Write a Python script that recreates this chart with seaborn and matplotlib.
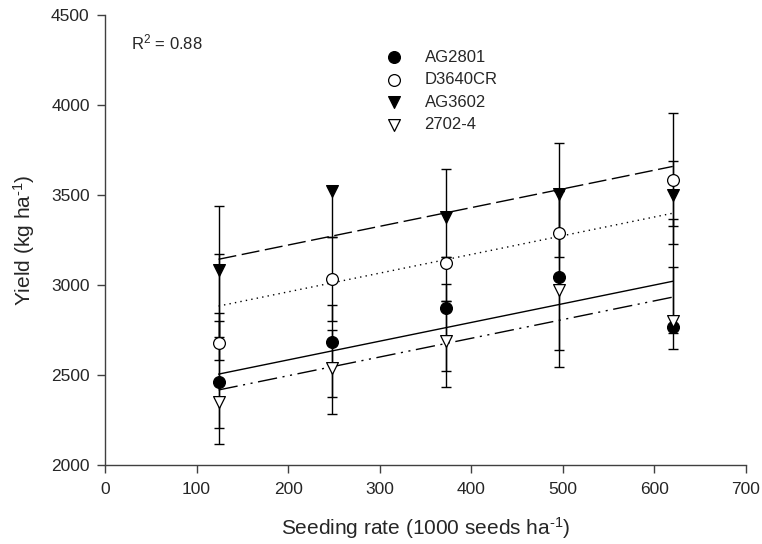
import numpy as np
import matplotlib
matplotlib.use("Agg")
import matplotlib.pyplot as plt
import seaborn as sns

# seeding rates (1000 seeds/ha)
rates = np.array([124, 248, 372, 496, 620])

# mean yields (kg/ha)
ag2801 = np.array([2459, 2685, 2870, 3043, 2765])
d3640cr = np.array([2676, 3031, 3120, 3291, 3583])
ag3602 = np.array([3083, 3525, 3379, 3506, 3500])
h2702_4 = np.array([2352, 2541, 2691, 2972, 2802])

# error bar ends (lower, upper)
ag2801_lo = np.array([2117, 2376, 2524, 2546, 2643])
ag2801_hi = np.array([2843, 2891, 3006, 3520, 3102])
d3640cr_lo = np.array([2581, 2800, 2913, 3154, 3228])
d3640cr_hi = np.array([3172, 3268, 3157, 3520, 3957])
ag3602_lo = np.array([2709, 3268, 3157, 3291, 3328])
ag3602_hi = np.array([3439, 3545, 3643, 3787, 3691])
h2702_4_lo = np.array([2207, 2283, 2431, 2639, 2731])
h2702_4_hi = np.array([2802, 2750, 2913, 3291, 3365])

# fitted lines (common slope)
slope = 1.04
intercepts = {"AG2801": 2376, "D3640CR": 2754, "AG3602": 3014, "2702-4": 2288}

sns.set_style("ticks")
plt.rcParams["font.family"] = ["Liberation Sans", "DejaVu Sans"]
plt.rcParams["mathtext.fontset"] = "custom"
plt.rcParams["mathtext.rm"] = "Liberation Sans"
plt.rcParams["mathtext.default"] = "regular"

fig, ax = plt.subplots(figsize=(7.62, 5.44), dpi=100)
fig.subplots_adjust(left=0.1378, right=0.979, bottom=0.1452, top=0.9724)

series = [
    ("AG2801", ag2801, ag2801_lo, ag2801_hi, "o", "black", (None, None)),
    ("D3640CR", d3640cr, d3640cr_lo, d3640cr_hi, "o", "white", (1, 3)),
    ("AG3602", ag3602, ag3602_lo, ag3602_hi, "v", "black", (13, 4)),
    ("2702-4", h2702_4, h2702_4_lo, h2702_4_hi, "v", "white", (14, 4, 1.5, 4, 1.5, 4)),
]

xfit = np.array([rates.min(), rates.max()])
for name, y, lo, hi, mk, fc, dash in series:
    ax.errorbar(rates, y, yerr=[y - lo, hi - y], fmt="none", ecolor="black",
                elinewidth=1, capsize=3.3, capthick=1, zorder=2, label="_nolegend_")
    ln, = ax.plot(xfit, intercepts[name] + slope * xfit, color="black", lw=1, zorder=3)
    if dash[0] is not None:
        ln.set_dashes(dash)
    sns.scatterplot(x=rates, y=y, marker=mk, s=72, color=fc, edgecolor="black",
                    linewidth=0.9, zorder=4, ax=ax, label=name)

ax.set_xlim(0, 700)
ax.set_ylim(2000, 4500)
ax.set_xticks(range(0, 701, 100))
ax.set_yticks(range(2000, 4501, 500))
ax.tick_params(axis="both", labelsize=12.5, length=5.5, width=1, color="#404040")
ax.tick_params(axis="x", pad=7)
ax.tick_params(axis="y", pad=5.5)
sns.despine(ax=ax)
for sp in ("left", "bottom"):
    ax.spines[sp].set_color("#404040")
    ax.spines[sp].set_linewidth(1)

ax.set_xlabel("Seeding rate (1000 seeds ha$^{\\text{-1}}$)", fontsize=15, labelpad=13)
ax.set_ylabel("Yield (kg ha$^{\\text{-1}}$)", fontsize=15, labelpad=10)

ax.text(0.04, 0.938, "R$^{2}$ = 0.88", transform=ax.transAxes, fontsize=12,
        va="center", ha="left")

ax.legend(loc="upper left", bbox_to_anchor=(0.414, 0.956), frameon=False,
          fontsize=12, handlelength=1.0, handletextpad=1.35, labelspacing=0.45,
          borderpad=0.4)

fig.savefig("out.png", dpi=100)
